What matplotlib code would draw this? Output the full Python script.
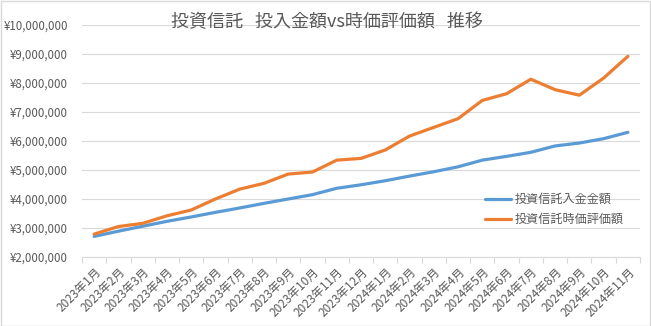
import matplotlib
matplotlib.use("Agg")
import matplotlib.pyplot as plt
from matplotlib.ticker import FuncFormatter, FixedLocator
from matplotlib.patches import Rectangle

plt.rcParams['font.family'] = ['Noto Sans CJK JP', 'DejaVu Sans']

months = ["2023年1月", "2023年2月", "2023年3月", "2023年4月", "2023年5月", "2023年6月",
          "2023年7月", "2023年8月", "2023年9月", "2023年10月", "2023年11月", "2023年12月",
          "2024年1月", "2024年2月", "2024年3月", "2024年4月", "2024年5月", "2024年6月",
          "2024年7月", "2024年8月", "2024年9月", "2024年10月", "2024年11月"]

invested = [2710000, 2890000, 3060000, 3230000, 3380000, 3540000, 3690000, 3850000,
            4000000, 4150000, 4370000, 4490000, 4630000, 4790000, 4940000, 5110000,
            5340000, 5470000, 5610000, 5830000, 5930000, 6080000, 6300000]

market = [2790000, 3050000, 3160000, 3420000, 3620000, 4000000, 4340000, 4540000,
          4860000, 4930000, 5340000, 5400000, 5690000, 6170000, 6470000, 6770000,
          7400000, 7630000, 8130000, 7770000, 7580000, 8170000, 8920000]

series_names = ["投資信託入金金額", "投資信託時価評価額"]
title = "投資信託   投入金額vs時価評価額   推移"

W, H = 651, 326
fig = plt.figure(figsize=(W / 100, H / 100), dpi=100)
fig.patch.set_facecolor("white")
fig.patches.append(Rectangle((0.5 / W, 0.5 / H), 1 - 1.5 / W, 1 - 1.5 / H,
                             transform=fig.transFigure, fill=False,
                             edgecolor="#d9d9d9", linewidth=1))

left, right, top, bottom = 82, 640, 25, 257
ax = fig.add_axes([left / W, 1 - bottom / H, (right - left) / W, (bottom - top) / H])

x = list(range(len(months)))
ax.plot(x, invested, color="#5B9BD5", linewidth=2.3, label=series_names[0],
        solid_joinstyle="round", solid_capstyle="round")
ax.plot(x, market, color="#ED7D31", linewidth=2.3, label=series_names[1],
        solid_joinstyle="round", solid_capstyle="round")

ax.set_xlim(-0.5, len(months) - 0.5)
ax.set_ylim(2000000, 10000000)
ax.set_yticks(range(2000000, 10000001, 1000000))
ax.yaxis.set_major_formatter(FuncFormatter(lambda v, p: "¥{:,.0f}".format(v)))
ax.grid(axis="y", color="#d9d9d9", linewidth=0.8)
ax.set_axisbelow(True)

for s in ["top", "right", "left"]:
    ax.spines[s].set_visible(False)
ax.spines["bottom"].set_color("#d9d9d9")
ax.spines["bottom"].set_linewidth(0.8)

ax.set_xticks(x)
ax.set_xticklabels(months, rotation=45, ha="right", rotation_mode="anchor",
                   fontsize=8.5, color="#595959")
ax.xaxis.set_minor_locator(FixedLocator([i - 0.5 for i in range(len(months) + 1)]))
ax.tick_params(axis="x", which="major", length=0, pad=6)
ax.tick_params(axis="x", which="minor", length=4, color="#d9d9d9", width=0.8)
ax.tick_params(axis="y", length=0, labelsize=8.3, labelcolor="#595959", pad=10)

fig.text(327 / W, 1 - 22 / H, title, ha="center", va="center", fontsize=13,
         color="#595959")

leg = ax.legend(loc="center left", bbox_to_anchor=(0.714, 0.205), frameon=False,
                fontsize=8.7, handlelength=2.1, handletextpad=0.3,
                labelspacing=0.6, borderaxespad=0)
for t in leg.get_texts():
    t.set_color("#595959")

fig.savefig("out.png", dpi=100)
